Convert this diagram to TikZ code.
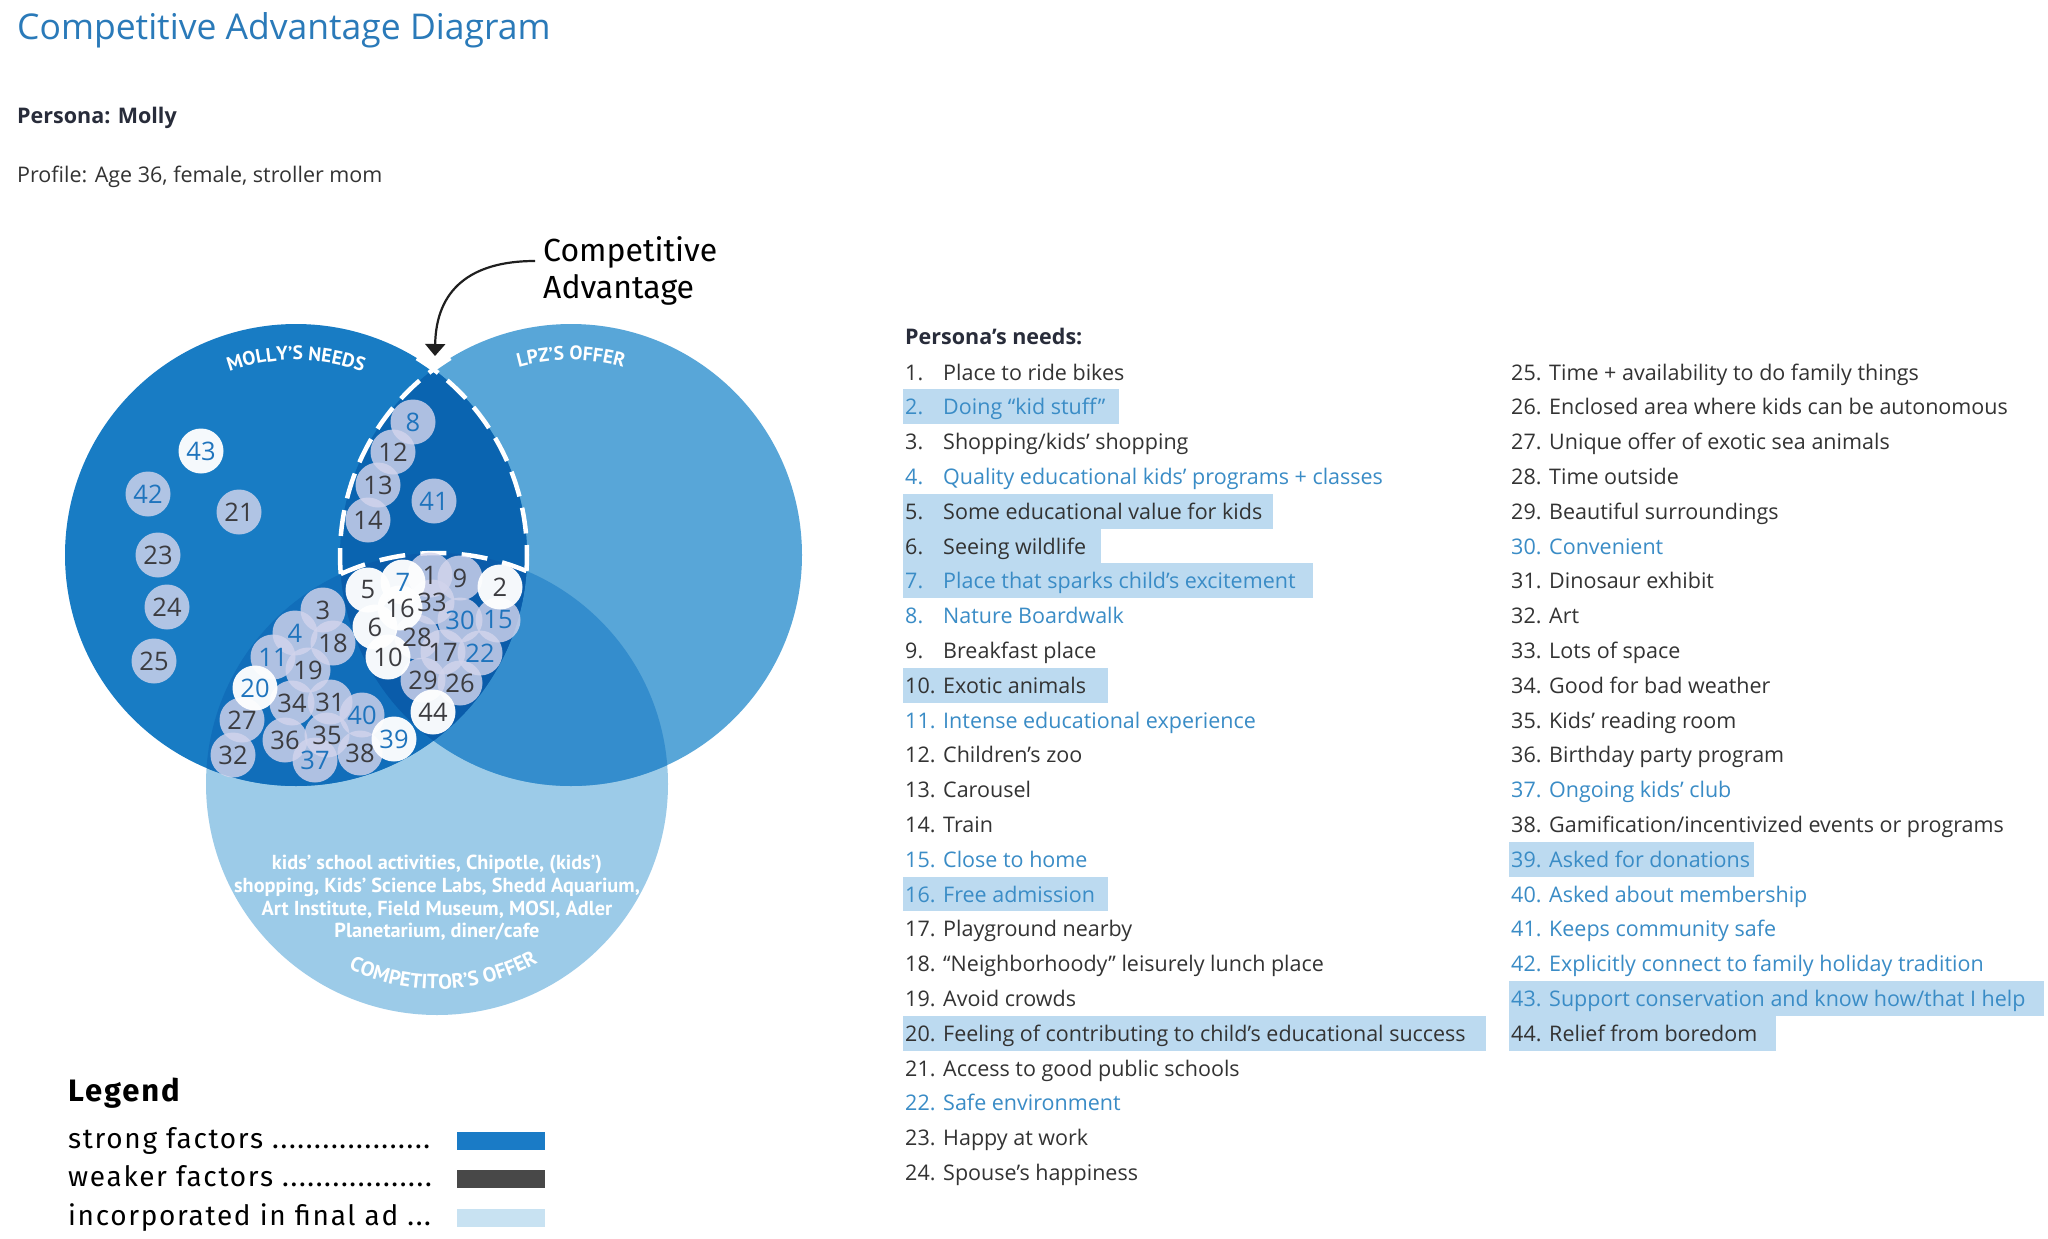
\documentclass[tikz,border=0pt]{standalone}
\usepackage{fontspec}
\setmainfont{Open Sans}
\newfontfamily\dinfont{Fira Sans}
\newfontfamily\legfont[LetterSpace=6]{Fira Sans}
\newfontfamily\myrfont{PT Sans}
\usetikzlibrary{arrows.meta,decorations.text}

\definecolor{titleblue}{RGB}{42,122,185}
\definecolor{listblue}{RGB}{58,140,198}
\definecolor{textdark}{RGB}{51,51,51}
\definecolor{headdark}{RGB}{40,44,58}
\definecolor{hlblue}{RGB}{188,218,240}
\definecolor{mollyc}{RGB}{24,124,196}
\definecolor{lpzc}{RGB}{88,166,216}
\definecolor{compc}{RGB}{156,203,232}
\definecolor{mlc}{RGB}{10,100,176}
\definecolor{mcc}{RGB}{17,110,186}
\definecolor{lcc}{RGB}{52,141,205}
\definecolor{mlcc}{RGB}{10,92,170}
\definecolor{lavc}{RGB}{210,212,236}
\definecolor{numdark}{RGB}{60,60,64}
\definecolor{numblue}{RGB}{31,116,189}
\definecolor{weakc}{RGB}{72,72,72}
\definecolor{incc}{RGB}{200,226,242}
\definecolor{strongc}{RGB}{26,123,198}

\newcommand\needrow[5]{%
  \node[listnum, text=#5] (ln#3) at (#1, {380+(#2-1)*34.8}) {#3.};
  \node[listtxt, text=#5] (lt#3) at (#1+38, {380+(#2-1)*34.8}) {#4};}
\newcommand\hlbar[3]{%
  \fill[hlblue] (#1, {380+(#2-1)*34.8-25.4}) rectangle (#3, {380+(#2-1)*34.8+9.4});}

\tikzset{
  listnum/.style={anchor=base west, inner sep=0pt, font=\fontsize{21.5}{26}\selectfont},
  listtxt/.style={anchor=base west, inner sep=0pt, font=\fontsize{21.5}{26}\selectfont},
  bubL/.style={circle, minimum size=45pt, inner sep=0pt, fill=lavc, fill opacity=0.82},
  bubW/.style={circle, minimum size=45pt, inner sep=0pt, fill=white, fill opacity=0.96},
  numD/.style={inner sep=0pt, text=numdark, font=\fontsize{25.5}{25.5}\selectfont},
  numB/.style={inner sep=0pt, text=numblue, font=\fontsize{25.5}{25.5}\selectfont},
  dashW/.style={draw=white, line width=4.5pt},
  legtxt/.style={anchor=base west, inner sep=0pt, font=\legfont\fontsize{28}{30}\selectfont, text=black},
  swatch/.style={rectangle, minimum width=88pt, minimum height=18pt, inner sep=0pt},
  calbl/.style={anchor=base west, inner sep=0pt, font=\dinfont\fontsize{32}{36}\selectfont, text=black},
}

\begin{document}
\begin{tikzpicture}[x=1pt,y=-1pt]
\useasboundingbox (0,0) rectangle (2048,1239);
\fill[white] (0,0) rectangle (2048,1239);

% ---------- header ----------
\node[anchor=base west, inner sep=0pt, text=titleblue, font=\fontsize{35.5}{40}\selectfont] (title) at (17,40) {Competitive Advantage Diagram};
\node[anchor=base west, inner sep=0pt, text=headdark, font=\bfseries\fontsize{21.5}{26}\selectfont] (persona) at (17,123) {Persona: Molly};
\node[anchor=base west, inner sep=0pt, text=textdark, font=\fontsize{21.5}{26}\selectfont] (profile) at (17,182) {Profile: Age 36, female, stroller mom};

% ---------- Venn ----------
\coordinate (M) at (296,555);
\coordinate (L) at (571,555);
\coordinate (C) at (437,784);
\fill[compc] (C) circle[radius=231];
\fill[lpzc] (L) circle[radius=231];
\begin{scope}
  \clip (L) circle[radius=231];
  \fill[lcc] (C) circle[radius=231];
\end{scope}
\fill[mollyc] (M) circle[radius=231];
\begin{scope}
  \clip (M) circle[radius=231];
  \fill[mcc] (C) circle[radius=231];
  \fill[mlc] (L) circle[radius=231];
  \clip (L) circle[radius=231];
  \fill[mlcc] (C) circle[radius=231];
\end{scope}

% dashed outline of competitive advantage
\draw[dashW, dash pattern=on 26pt off 12.15pt] (L) ++(238.5:231) arc[start angle=238.5, end angle=175.28, radius=231];
\draw[dashW, dash pattern=on 26pt off 15.3pt] (C) ++(245.39:231) arc[start angle=245.39, end angle=292.79, radius=231];
\draw[dashW, dash pattern=on 26pt off 11.6pt] (M) ++(3.97:231) arc[start angle=3.97, end angle=-58.47, radius=231];

% curved circle labels
\path[decorate, decoration={text along path, text align=center,
  text={|\myrfont\bfseries\fontsize{19.5}{19.5}\selectfont\color{white}|MOLLY’S NEEDS}}]
  (M) ++(-150:195) arc[start angle=-150, end angle=-30, radius=195];
\path[decorate, decoration={text along path, text align=center,
  text={|\myrfont\bfseries\fontsize{19.5}{19.5}\selectfont\color{white}|LPZ’S OFFER}}]
  (L) ++(-150:195) arc[start angle=-150, end angle=-30, radius=195];
\path[decorate, decoration={text along path, text align=center,
  text={|\myrfont\bfseries\fontsize{20.5}{20.5}\selectfont\color{white}|COMPETITOR’S OFFER}}]
  (C) ++(150:205) arc[start angle=150, end angle=26, radius=205];

% competitor text
\node[align=center, inner sep=0pt, text=white, font=\myrfont\bfseries\fontsize{20.3}{22.7}\selectfont] (comptext) at (437,898)
  {kids’ school activities, Chipotle, (kids’)\\shopping, Kids’ Science Labs, Shedd Aquarium,\\Art Institute, Field Museum, MOSI, Adler\\Planetarium, diner/cafe};

% bubbles: fills
\foreach \n/\x/\y in {12/393/452, 13/378/485, 14/368/520, 21/239/512, 23/158/555, 24/167/607, 25/154/661, 1/430/575, 9/460/578, 33/432/602, 28/417/637, 17/443/652, 29/423/680, 26/460/683, 3/323/610, 18/333/643, 19/308/670, 34/292/703, 31/330/702, 27/242/720, 36/285/740, 35/327/735, 32/233/755, 38/360/753, 8/413/422, 41/434/501, 42/148/494, 30/460/620, 15/498/620, 22/480/653, 4/295/633, 11/273/657, 40/362/715, 37/315/760}
  \node[bubL] (b\n) at (\x,\y) {};
\foreach \n/\x/\y in {5/368/590, 2/500/587, 16/400/608, 6/375/627, 10/388/657, 44/433/712, 43/201/451, 7/403/582, 20/255/688, 39/394/739}
  \node[bubW] (b\n) at (\x,\y) {};
% bubbles: numbers
\foreach \n in {12,13,14,21,23,24,25,1,9,33,28,17,29,26,3,18,19,34,31,27,36,35,32,38,5,2,16,6,10,44}
  \node[numD] (n\n) at (b\n) {\n};
\foreach \n in {8,41,42,30,15,22,4,11,40,37,43,7,20,39}
  \node[numB] (n\n) at (b\n) {\n};

% competitive advantage callout
\node[calbl] (ca1) at (543,261) {Competitive};
\node[calbl] (ca2) at (543,298) {Advantage};
\coordinate (cs) at ([xshift=-8pt]ca1.base west);
\coordinate (tip) at (435,356);
\draw[line width=2.2pt, draw=black!88, -{Triangle[width=20pt,length=12pt]}] (cs) .. controls (470,261) and (436,290) .. (tip);

% ---------- needs list ----------
\node[anchor=base west, inner sep=0pt, text=headdark, font=\bfseries\fontsize{21.5}{26}\selectfont] (needs) at (905,344) {Persona’s needs:};

\hlbar{903}{2}{1119}
\hlbar{903}{5}{1273}
\hlbar{903}{6}{1101}
\hlbar{903}{7}{1313}
\hlbar{903}{10}{1108}
\hlbar{903}{16}{1108}
\hlbar{903}{20}{1486}
\hlbar{1509}{15}{1754}
\hlbar{1509}{19}{2044}
\hlbar{1509}{20}{1776}

\needrow{905}{1}{1}{Place to ride bikes}{textdark}
\needrow{905}{2}{2}{Doing “kid stuff”}{listblue}
\needrow{905}{3}{3}{Shopping/kids’ shopping}{textdark}
\needrow{905}{4}{4}{Quality educational kids’ programs + classes}{listblue}
\needrow{905}{5}{5}{Some educational value for kids}{textdark}
\needrow{905}{6}{6}{Seeing wildlife}{textdark}
\needrow{905}{7}{7}{Place that sparks child’s excitement}{listblue}
\needrow{905}{8}{8}{Nature Boardwalk}{listblue}
\needrow{905}{9}{9}{Breakfast place}{textdark}
\needrow{905}{10}{10}{Exotic animals}{textdark}
\needrow{905}{11}{11}{Intense educational experience}{listblue}
\needrow{905}{12}{12}{Children’s zoo}{textdark}
\needrow{905}{13}{13}{Carousel}{textdark}
\needrow{905}{14}{14}{Train}{textdark}
\needrow{905}{15}{15}{Close to home}{listblue}
\needrow{905}{16}{16}{Free admission}{listblue}
\needrow{905}{17}{17}{Playground nearby}{textdark}
\needrow{905}{18}{18}{“Neighborhoody” leisurely lunch place}{textdark}
\needrow{905}{19}{19}{Avoid crowds}{textdark}
\needrow{905}{20}{20}{Feeling of contributing to child’s educational success}{textdark}
\needrow{905}{21}{21}{Access to good public schools}{textdark}
\needrow{905}{22}{22}{Safe environment}{listblue}
\needrow{905}{23}{23}{Happy at work}{textdark}
\needrow{905}{24}{24}{Spouse’s happiness}{textdark}

\needrow{1511}{1}{25}{Time + availability to do family things}{textdark}
\needrow{1511}{2}{26}{Enclosed area where kids can be autonomous}{textdark}
\needrow{1511}{3}{27}{Unique offer of exotic sea animals}{textdark}
\needrow{1511}{4}{28}{Time outside}{textdark}
\needrow{1511}{5}{29}{Beautiful surroundings}{textdark}
\needrow{1511}{6}{30}{Convenient}{listblue}
\needrow{1511}{7}{31}{Dinosaur exhibit}{textdark}
\needrow{1511}{8}{32}{Art}{textdark}
\needrow{1511}{9}{33}{Lots of space}{textdark}
\needrow{1511}{10}{34}{Good for bad weather}{textdark}
\needrow{1511}{11}{35}{Kids’ reading room}{textdark}
\needrow{1511}{12}{36}{Birthday party program}{textdark}
\needrow{1511}{13}{37}{Ongoing kids’ club}{listblue}
\needrow{1511}{14}{38}{Gamification/incentivized events or programs}{textdark}
\needrow{1511}{15}{39}{Asked for donations}{listblue}
\needrow{1511}{16}{40}{Asked about membership}{listblue}
\needrow{1511}{17}{41}{Keeps community safe}{listblue}
\needrow{1511}{18}{42}{Explicitly connect to family holiday tradition}{listblue}
\needrow{1511}{19}{43}{Support conservation and know how/that I help}{listblue}
\needrow{1511}{20}{44}{Relief from boredom}{textdark}

% ---------- legend ----------
\node[anchor=base west, inner sep=0pt, font=\legfont\bfseries\fontsize{31}{33}\selectfont, text=black] (legend) at (68,1101) {Legend};
\node[legtxt] (lg1) at (68,1148.5) {strong factors ...................};
\node[legtxt] (lg2) at (68,1186.5) {weaker factors ..................};
\node[legtxt] (lg3) at (68,1225.5) {incorporated in final ad ...};
\node[swatch, fill=strongc] (sw1) at (501,1141) {};
\node[swatch, fill=weakc] (sw2) at (501,1179) {};
\node[swatch, fill=incc] (sw3) at (501,1218) {};
\end{tikzpicture}
\end{document}
